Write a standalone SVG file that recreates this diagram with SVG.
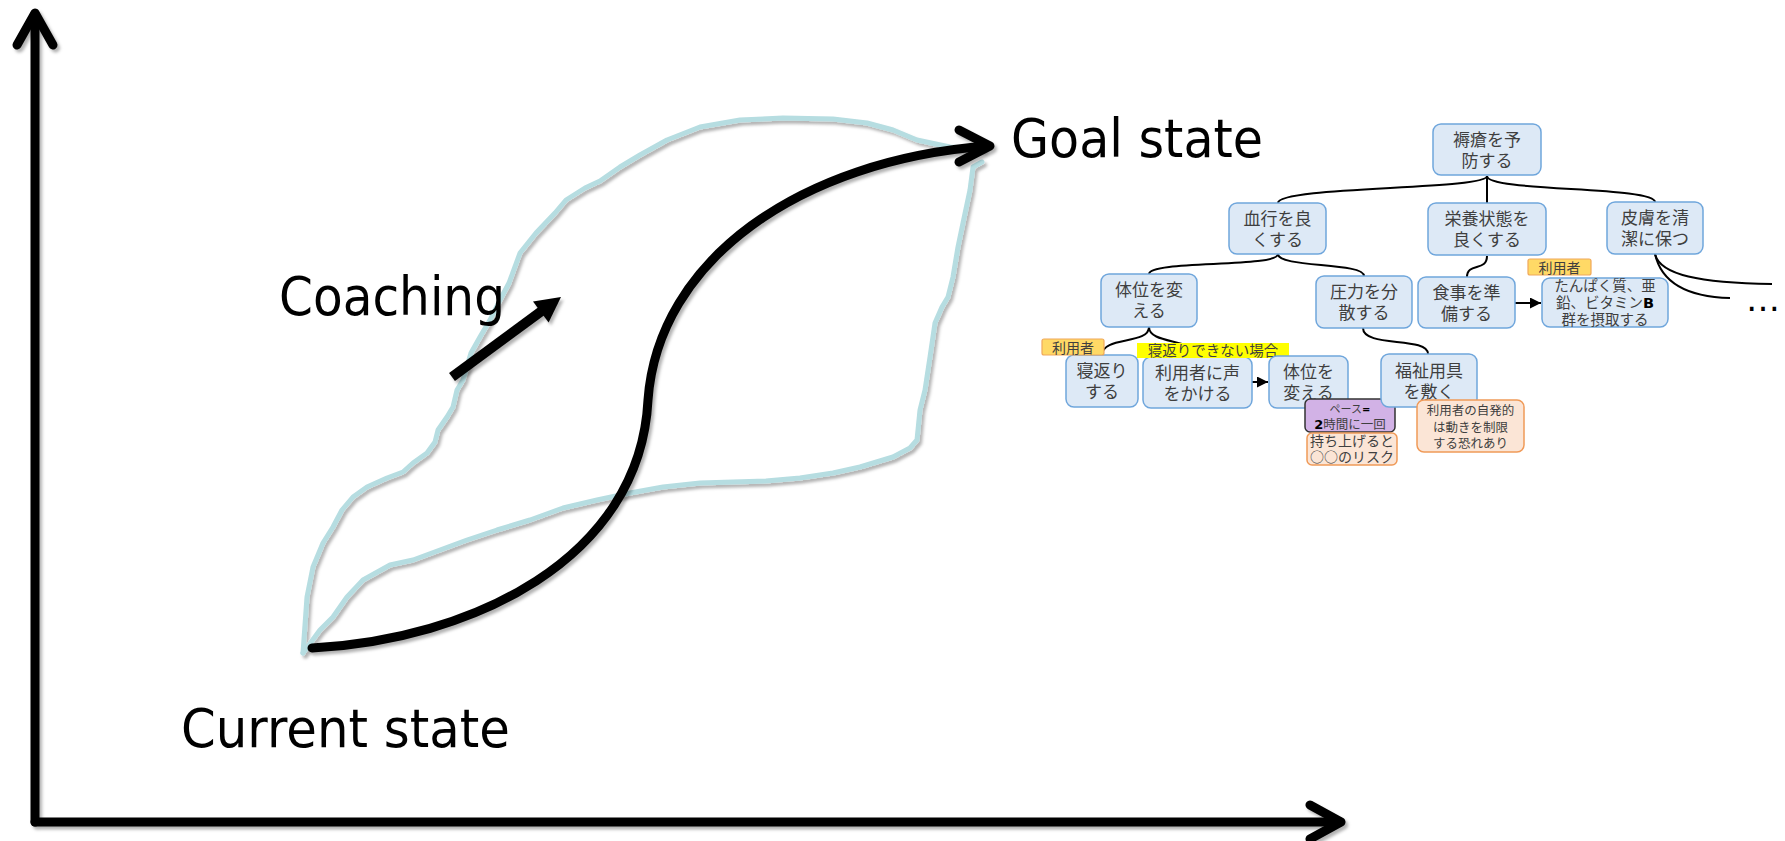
<svg xmlns="http://www.w3.org/2000/svg" width="1785" height="841" viewBox="0 0 1785 841">
  <style>
    .big { font-family: "DejaVu Sans", "Liberation Sans", sans-serif; font-size: 54px; fill: #000; }
    .ax { fill: none; stroke: #000; stroke-width: 9; stroke-linecap: round; stroke-linejoin: round; }
    .path-goal { fill: none; stroke: #000; stroke-width: 9; stroke-linecap: round; stroke-linejoin: round; }
    .wander { fill: none; stroke: #b6dde1; stroke-width: 5; stroke-linecap: round; stroke-linejoin: round; }
    .box { fill: #dde9f6; stroke: #6fa6dc; stroke-width: 1.5; }
    .note { fill: #fbe5d6; stroke: #f09a58; stroke-width: 1.5; }
    .pace { fill: #d2b2e6; stroke: #333; stroke-width: 1.5; }
    .tag { fill: #ffd966; stroke: #f0a85a; stroke-width: 1.2; }
    .jp { font-family: "Noto Sans CJK JP", sans-serif; fill: #3f3f3f; text-anchor: middle; }
    .t17 { font-size: 17px; }
    .t15 { font-size: 14.5px; }
    .t14 { font-size: 14px; }
    .t13 { font-size: 12.5px; }
    .link { fill: none; stroke: #000; stroke-width: 2; }
    .bold { font-family: "DejaVu Sans", sans-serif; font-weight: bold; fill: #000; }
  </style>
  <defs>
    <filter id="shadow" filterUnits="userSpaceOnUse" x="0" y="0" width="1785" height="841">
      <feDropShadow dx="2.5" dy="3" stdDeviation="1.8" flood-color="#000" flood-opacity="0.3"/>
    </filter>
    <marker id="tri" viewBox="0 0 10 10" refX="10" refY="5" markerWidth="11" markerHeight="11" markerUnits="userSpaceOnUse" orient="auto">
      <path d="M0,0 L10,5 L0,10 Z" fill="#000"/>
    </marker>
  </defs>

  <rect width="1785" height="841" fill="#fff"/>

  <!-- axes -->
  <g id="axes" filter="url(#shadow)">
    <path class="ax" d="M35,822 L35,14"/>
    <path class="ax" d="M17,45 L35,13 L53,45"/>
    <path class="ax" d="M35,822 L1340,822"/>
    <path class="ax" d="M1310,805 L1341,822 L1310,839"/>
  </g>

  <!-- hand-drawn wandering route -->
  <g id="wander-route" filter="url(#shadow)">
    <path class="wander" d="M303,653 L305,625 L307,597 L313,567 L323,543 L333,527 L342,510 L353,497 L367,487 L387,478 L403,472 L413,463 L427,453 L435,442 L438,430 L447,417 L453,407 L457,390 L463,380 L471,353 L480,337 L490,320 L500,300 L509,283 L520,253 L536,233 L555,213 L566,200 L585,188 L600,181 L620,167 L640,155 L667,140 L700,127 L740,120 L783,118 L833,119 L867,123 L893,130 L917,140 L950,147 L983,149"/>
    <path class="wander" d="M982,162 L973,167 L970,190 L963,223 L958,247 L953,277 L948,297 L942,307 L935,323 L930,357 L925,390 L920,410 L917,440 L910,448 L893,457 L860,467 L833,473 L800,478 L766,481 L733,482 L700,483 L663,487 L630,493 L597,500 L563,508 L530,520 L497,530 L467,540 L440,550 L413,560 L390,565 L363,580 L347,597 L333,617 L320,630 L303,653"/>
  </g>

  <!-- direct route -->
  <g id="goal-route" filter="url(#shadow)">
    <path class="path-goal" d="M312,648 C470,640 640,560 648,400 C658,260 800,160 988,146"/>
    <path class="path-goal" d="M959,130 L990,146 L959,162"/>
  </g>

  <!-- coaching arrow -->
  <g id="coaching-arrow" filter="url(#shadow)">
    <path d="M452,377 L543,310" stroke="#000" stroke-width="10" fill="none"/>
    <path d="M561,297 L533,301.5 L548.6,322.5 Z" fill="#000"/>
  </g>

  <!-- labels -->
  <text id="label-goal" class="big" x="1011" y="157" textLength="252" lengthAdjust="spacingAndGlyphs">Goal state</text>
  <text id="label-coaching" class="big" x="279" y="315" textLength="226" lengthAdjust="spacingAndGlyphs">Coaching</text>
  <text id="label-current" class="big" x="181" y="747" textLength="329" lengthAdjust="spacingAndGlyphs">Current state</text>

  <!-- tree connectors -->
  <g id="tree-links">
    <path class="link" d="M1487,176 C1487,190 1278,186 1278,203"/>
    <path class="link" d="M1487,176 L1487,203"/>
    <path class="link" d="M1487,176 C1487,192 1655,186 1655,202"/>
    <path class="link" d="M1278,254 C1278,268 1149,260 1149,274"/>
    <path class="link" d="M1278,254 C1278,268 1364,262 1364,276"/>
    <path class="link" d="M1487,256 C1487,272 1467,262 1467,277"/>
    <path class="link" d="M1655,254 C1660,275 1700,283 1772,284"/>
    <path class="link" d="M1655,254 C1662,285 1690,297 1730,298"/>
    <path class="link" d="M1149,327 C1149,345 1102,336 1102,355"/>
    <path class="link" d="M1149,327 C1149,345 1197,338 1197,357"/>
    <path class="link" d="M1363,328 C1363,348 1428,336 1428,354"/>
    <path class="link" d="M1515,303 L1541,303" marker-end="url(#tri)"/>
    <path class="link" d="M1252,382 L1268,382" marker-end="url(#tri)"/>
  </g>

  <!-- tree nodes -->
  <g id="n-root">
    <rect class="box" x="1433" y="124" width="108" height="51" rx="8"/>
    <text class="jp t17" x="1487" y="146">褥瘡を予</text>
    <text class="jp t17" x="1487" y="167">防する</text>
  </g>
  <g id="n-blood">
    <rect class="box" x="1229" y="203" width="97" height="51" rx="8"/>
    <text class="jp t17" x="1277.5" y="225">血行を良</text>
    <text class="jp t17" x="1277.5" y="246">くする</text>
  </g>
  <g id="n-nutrition">
    <rect class="box" x="1428" y="203" width="118" height="52" rx="8"/>
    <text class="jp t17" x="1487" y="225">栄養状態を</text>
    <text class="jp t17" x="1487" y="246">良くする</text>
  </g>
  <g id="n-skin">
    <rect class="box" x="1607" y="202" width="96" height="52" rx="8"/>
    <text class="jp t17" x="1655" y="224">皮膚を清</text>
    <text class="jp t17" x="1655" y="245">潔に保つ</text>
  </g>
  <g id="n-posture">
    <rect class="box" x="1101" y="274" width="96" height="53" rx="8"/>
    <text class="jp t17" x="1149" y="296">体位を変</text>
    <text class="jp t17" x="1149" y="317">える</text>
  </g>
  <g id="n-pressure">
    <rect class="box" x="1316" y="276" width="96" height="52" rx="8"/>
    <text class="jp t17" x="1364" y="298">圧力を分</text>
    <text class="jp t17" x="1364" y="319">散する</text>
  </g>
  <g id="n-meal">
    <rect class="box" x="1418" y="277" width="97" height="51" rx="8"/>
    <text class="jp t17" x="1466.5" y="299">食事を準</text>
    <text class="jp t17" x="1466.5" y="320">備する</text>
  </g>
  <g id="n-intake">
    <rect class="box" x="1542" y="278" width="126" height="49" rx="8"/>
    <text class="jp t15" x="1605" y="291">たんぱく質、亜</text>
    <text class="jp t15" x="1605" y="308">鉛、ビタミン<tspan class="bold">B</tspan></text>
    <text class="jp t15" x="1605" y="325">群を摂取する</text>
  </g>
  <g id="tag-user-intake">
    <rect class="tag" x="1528" y="259" width="63" height="16" rx="2"/>
    <text class="jp t14" x="1559.5" y="272.5">利用者</text>
  </g>
  <g id="dots">
    <text x="1746" y="311" font-family="DejaVu Sans, sans-serif" font-size="34" fill="#000">…</text>
  </g>
  <g id="n-roll">
    <rect class="box" x="1066" y="355" width="72" height="52" rx="8"/>
    <text class="jp t17" x="1102" y="376.5">寝返り</text>
    <text class="jp t17" x="1102" y="398">する</text>
  </g>
  <g id="tag-user-roll">
    <rect class="tag" x="1042" y="339" width="62" height="16" rx="2"/>
    <text class="jp t14" x="1073" y="352.5">利用者</text>
  </g>
  <g id="n-call">
    <rect class="box" x="1143" y="357" width="109" height="51" rx="8"/>
    <text class="jp t17" x="1197.5" y="378.5">利用者に声</text>
    <text class="jp t17" x="1197.5" y="399.5">をかける</text>
  </g>
  <g id="note-cannot-roll">
    <rect x="1137" y="343" width="152" height="15" fill="#ffff00"/>
    <text class="jp t15" x="1213" y="356">寝返りできない場合</text>
  </g>
  <g id="n-turn">
    <rect class="box" x="1269" y="356" width="79" height="52" rx="8"/>
    <text class="jp t17" x="1308.5" y="378">体位を</text>
    <text class="jp t17" x="1308.5" y="399">変える</text>
  </g>
  <g id="n-pace">
    <rect class="pace" x="1305" y="399" width="90" height="33" rx="5"/>
    <text class="jp" x="1350" y="412.5" font-size="11">ペース<tspan class="bold" font-size="10">=</tspan></text>
    <text class="jp" x="1350" y="429" font-size="12.5"><tspan class="bold" font-size="13">2</tspan>時間に一回</text>
  </g>
  <g id="n-lift-risk">
    <rect class="note" x="1307" y="433" width="90" height="32" rx="5"/>
    <text class="jp t14" x="1352" y="446">持ち上げると</text>
    <text class="jp t14" x="1352" y="462">○○のリスク</text>
  </g>
  <g id="n-equipment">
    <rect class="box" x="1381" y="354" width="96" height="53" rx="8"/>
    <text class="jp t17" x="1429" y="376.5">福祉用具</text>
    <text class="jp t17" x="1429" y="397.5">を敷く</text>
  </g>
  <g id="n-restrict">
    <rect class="note" x="1417" y="400" width="107" height="52" rx="7"/>
    <text class="jp t13" x="1470.5" y="415">利用者の自発的</text>
    <text class="jp t13" x="1470.5" y="432">は動きを制限</text>
    <text class="jp t13" x="1470.5" y="448">する恐れあり</text>
  </g>
</svg>
